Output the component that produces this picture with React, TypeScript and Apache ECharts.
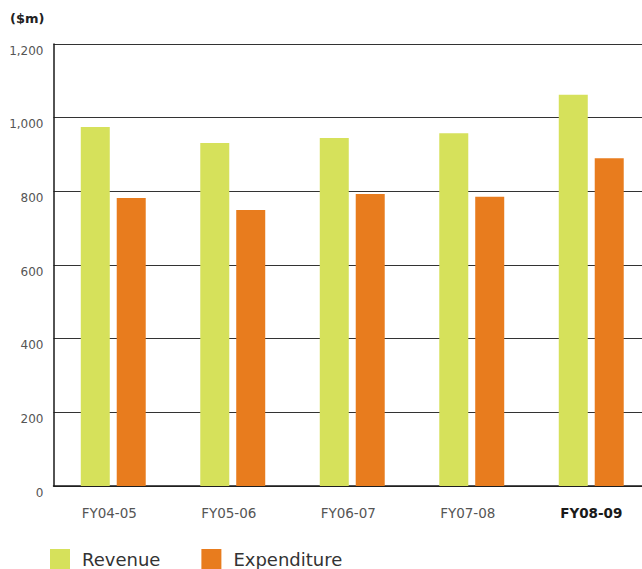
import React, { useEffect, useRef } from "react";
import * as echarts from "echarts";

const categories = ["FY04-05", "FY05-06", "FY06-07", "FY07-08", "FY08-09"];
const revenue = [975, 931, 945, 958, 1062];
const expenditure = [782, 749, 793, 785, 890];
const yTicks = { min: 0, max: 1200, interval: 200 };
const unitLabel = "($m)";
const highlightCategory = "FY08-09";

export default function App() {
  const ref = useRef<HTMLDivElement>(null);
  useEffect(() => {
    if (!ref.current) return;
    const chart = echarts.init(ref.current, null, { renderer: "svg" });
    const font = "DejaVu Sans";
    chart.setOption({
      animation: false,
      backgroundColor: "#ffffff",
      textStyle: { fontFamily: font },
      graphic: [
        {
          type: "text",
          left: 10,
          top: 12,
          style: {
            text: unitLabel,
            font: `bold 13px "${font}"`,
            fill: "#222",
          },
        },
      ],
      legend: {
        left: 50,
        top: 549,
        padding: 0,
        icon: "rect",
        itemWidth: 20,
        itemHeight: 20,
        itemGap: 41,
        textStyle: { fontFamily: font, fontSize: 18, color: "#333", lineHeight: 20, padding: [0, 0, 0, 7] },
        data: ["Revenue", "Expenditure"],
      },
      grid: { left: 53.5, right: 0, top: 44, bottom: 83, containLabel: false },
      xAxis: {
        type: "category",
        data: categories.map((c) =>
          c === highlightCategory
            ? { value: c, textStyle: { fontWeight: "bold", color: "#1a1a1a", fontSize: 13.5 } }
            : { value: c, textStyle: { padding: [0, 8, 0, 0] } }
        ),
        axisTick: { show: false },
        axisLine: { show: true, lineStyle: { color: "#1a1a1a", width: 1.5 } },
        axisLabel: { fontFamily: font, fontSize: 13.5, color: "#555", margin: 20 },
      },
      yAxis: {
        type: "value",
        min: yTicks.min,
        max: yTicks.max,
        interval: yTicks.interval,
        axisLine: { show: true, lineStyle: { color: "#1a1a1a", width: 1.5 } },
        axisTick: { show: false },
        splitLine: { show: true, lineStyle: { color: "#333", width: 1 } },
        axisLabel: {
          fontFamily: font,
          fontSize: 12,
          color: "#555",
          margin: 10,
          verticalAlign: "top",
          lineHeight: 13,
          formatter: (v: number) => v.toLocaleString("en-US"),
        },
      },
      series: [
        {
          name: "Revenue",
          type: "bar",
          data: revenue,
          barWidth: 29,
          barGap: "24%",
          itemStyle: { color: "#D6E15B" },
        },
        {
          name: "Expenditure",
          type: "bar",
          data: expenditure,
          barWidth: 29,
          barGap: "24%",
          itemStyle: { color: "#E87C1E" },
        },
      ],
    });
    return () => chart.dispose();
  }, []);
  return (
    <div
      style={{ position: "fixed", left: 0, top: 0, width: 642, height: 569, overflow: "hidden" }}
    >
      <div ref={ref} style={{ width: 651, height: 569 }} />
    </div>
  );
}
